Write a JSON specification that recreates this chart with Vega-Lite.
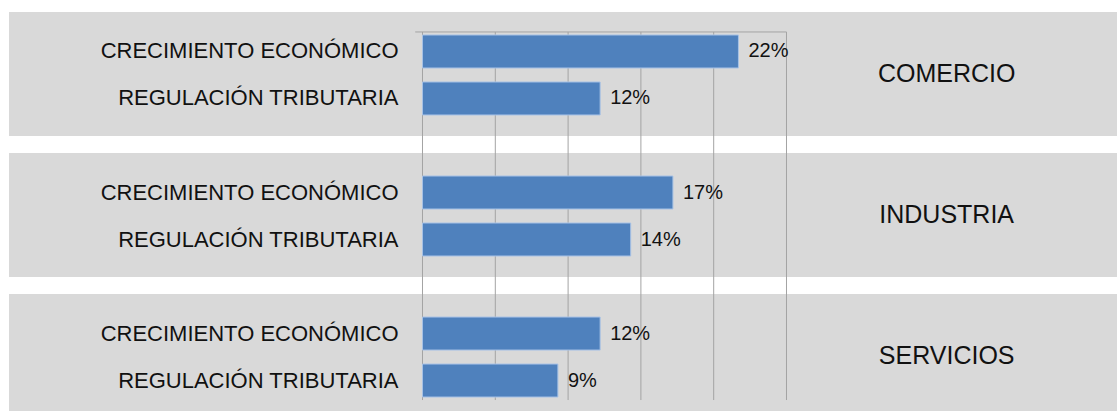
{
  "$schema": "https://vega.github.io/schema/vega-lite/v6.json",
  "width": 1108,
  "height": 399,
  "autosize": "none",
  "padding": {"top": 12, "left": 9, "right": 0, "bottom": 0},
  "background": "white",
  "config": {"view": {"stroke": null}},
  "datasets": {
    "bars": [
      {"sector": "COMERCIO", "category": "CRECIMIENTO ECONÓMICO", "value": 0.217},
      {"sector": "COMERCIO", "category": "REGULACIÓN TRIBUTARIA", "value": 0.122},
      {"sector": "INDUSTRIA", "category": "CRECIMIENTO ECONÓMICO", "value": 0.172},
      {"sector": "INDUSTRIA", "category": "REGULACIÓN TRIBUTARIA", "value": 0.143},
      {"sector": "SERVICIOS", "category": "CRECIMIENTO ECONÓMICO", "value": 0.122},
      {"sector": "SERVICIOS", "category": "REGULACIÓN TRIBUTARIA", "value": 0.093}
    ],
    "sectors": [{"sector": "COMERCIO"}, {"sector": "INDUSTRIA"}, {"sector": "SERVICIOS"}],
    "grid": [{"v": 0}, {"v": 0.05}, {"v": 0.1}, {"v": 0.15}, {"v": 0.2}, {"v": 0.25}]
  },
  "layer": [
    {
      "data": {"name": "sectors"},
      "mark": {"type": "rect", "color": "#D9D9D9"},
      "encoding": {
        "y": {"field": "sector", "type": "nominal", "axis": null,
              "scale": {"domain": ["COMERCIO", "INDUSTRIA", "SERVICIOS"], "range": [0, 406], "paddingInner": 0.121, "paddingOuter": 0}},
        "x": {"datum": -0.284, "type": "quantitative", "axis": null,
              "scale": {"domain": [-0.284, 0.477], "nice": false, "zero": false}},
        "x2": {"datum": 0.477}
      }
    },
    {
      "data": {"name": "grid"},
      "mark": {"type": "rule", "color": "#A3A3A3", "strokeWidth": 1},
      "encoding": {
        "x": {"field": "v", "type": "quantitative"},
        "y": {"datum": "COMERCIO", "type": "nominal", "bandPosition": 0.161},
        "y2": {"datum": "SERVICIOS", "bandPosition": 0.855}
      }
    },
    {
      "data": {"values": [{}]},
      "mark": {"type": "rule", "color": "#A3A3A3", "strokeWidth": 1},
      "encoding": {
        "x": {"datum": -0.005, "type": "quantitative"},
        "x2": {"datum": 0.25},
        "y": {"datum": "COMERCIO", "type": "nominal", "bandPosition": 0.161}
      }
    },
    {
      "data": {"name": "bars"},
      "mark": {"type": "bar", "color": "#4F81BD", "stroke": "#A7C2E6", "strokeWidth": 1},
      "encoding": {
        "y": {"field": "sector", "type": "nominal"},
        "yOffset": {"field": "category", "type": "nominal",
                    "scale": {"domain": ["CRECIMIENTO ECONÓMICO", "REGULACIÓN TRIBUTARIA"], "paddingInner": 0.298, "paddingOuter": 0.468, "align": 0.523}},
        "x": {"field": "value", "type": "quantitative"}
      }
    },
    {
      "data": {"name": "bars"},
      "mark": {"type": "text", "align": "left", "baseline": "middle", "dx": 10, "font": "Liberation Sans Narrow, Arial Narrow, Liberation Sans, sans-serif", "fontSize": 20, "color": "#111111"},
      "encoding": {
        "y": {"field": "sector", "type": "nominal"},
        "yOffset": {"field": "category", "type": "nominal"},
        "x": {"field": "value", "type": "quantitative"},
        "text": {"field": "value", "type": "quantitative", "format": ".0%"}
      }
    },
    {
      "data": {"name": "bars"},
      "mark": {"type": "text", "align": "right", "baseline": "middle", "dx": -24, "font": "Liberation Sans Narrow, Arial Narrow, Liberation Sans, sans-serif", "fontSize": 22, "color": "#111111"},
      "encoding": {
        "y": {"field": "sector", "type": "nominal"},
        "yOffset": {"field": "category", "type": "nominal"},
        "x": {"datum": 0, "type": "quantitative"},
        "text": {"field": "category", "type": "nominal"}
      }
    },
    {
      "data": {"name": "sectors"},
      "mark": {"type": "text", "align": "center", "baseline": "middle", "font": "Liberation Sans Narrow, Arial Narrow, Liberation Sans, sans-serif", "fontSize": 25, "color": "#111111"},
      "encoding": {
        "y": {"field": "sector", "type": "nominal"},
        "x": {"datum": 0.36, "type": "quantitative"},
        "text": {"field": "sector", "type": "nominal"}
      }
    }
  ]
}
